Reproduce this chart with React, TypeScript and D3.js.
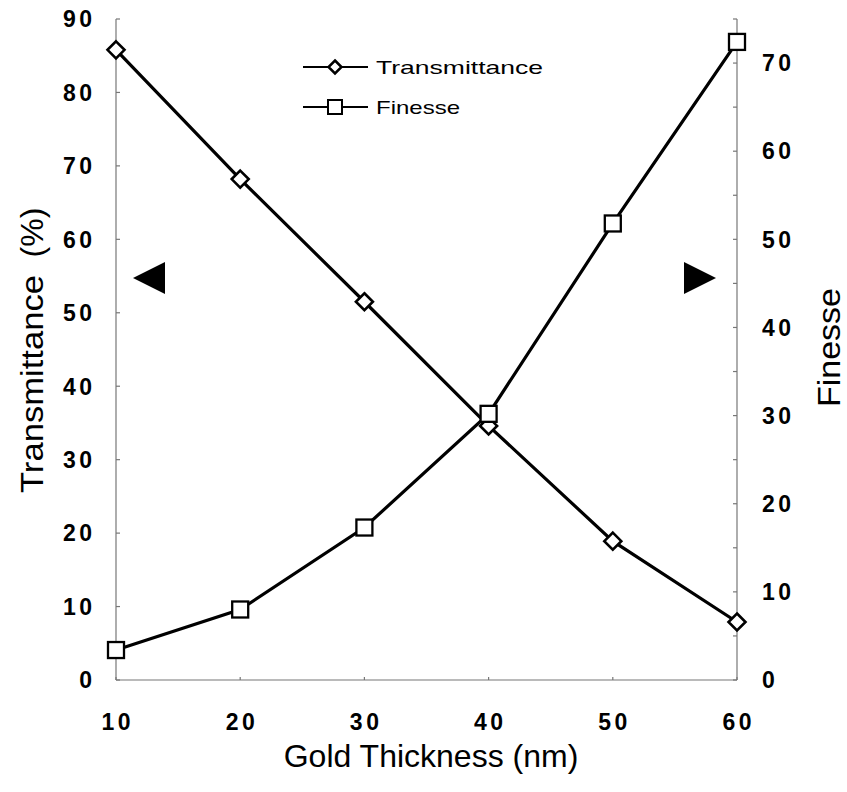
import React from "react";
import * as d3 from "d3";

const thickness = [10, 20, 30, 40, 50, 60];
const transmittance = [85.8, 68.2, 51.5, 34.6, 18.9, 7.9];
const finesse = [3.4, 8.0, 17.3, 30.2, 51.8, 72.4];
const leftTicks = [0, 10, 20, 30, 40, 50, 60, 70, 80, 90];
const rightTicks = [0, 10, 20, 30, 40, 50, 60, 70];
const rightMinor = [5, 15, 25, 35, 45, 55, 65, 75];
const xTicks = [10, 20, 30, 40, 50, 60];

export default function App() {
  const W = 847, H = 792;
  const x = d3.scaleLinear().domain([10, 60]).range([116, 737]);
  const yL = d3.scaleLinear().domain([0, 90]).range([680, 19]);
  const yR = d3.scaleLinear().domain([0, 75]).range([680, 19]);
  const lineT = d3.line<number>().x((_, i) => x(thickness[i])).y((d) => yL(d));
  const lineF = d3.line<number>().x((_, i) => x(thickness[i])).y((d) => yR(d));
  const font = "'Liberation Sans', Arial, sans-serif";
  const ls = 3.5;
  const tickStyle: React.CSSProperties = { fontFamily: font, fontSize: 23, fontWeight: 700, letterSpacing: ls };
  const diamond = (cx: number, cy: number, s = 8.5) =>
    `M${cx},${cy - s}L${cx + s},${cy}L${cx},${cy + s}L${cx - s},${cy}Z`;
  return (
    <svg width={W} height={H} style={{ position: "absolute", left: 0, top: 0, background: "#fff" }}>
      <rect width={W} height={H} fill="#fff" />
      {/* axes */}
      <g stroke="#777" strokeWidth={1.2} fill="none">
        <line x1={x(10)} x2={x(10)} y1={yL(90)} y2={yL(0)} />
        <line x1={x(60)} x2={x(60)} y1={yR(75)} y2={yR(0)} />
        <line x1={x(10)} x2={x(60)} y1={yL(0)} y2={yL(0)} />
        {leftTicks.map((t) => (
          <line key={"lt" + t} x1={x(10)} x2={x(10) + 4} y1={yL(t)} y2={yL(t)} />
        ))}
        {rightTicks.concat(rightMinor).map((t) => (
          <line key={"rt" + t} x1={x(60)} x2={x(60) - 4} y1={yR(t)} y2={yR(t)} />
        ))}
        {xTicks.map((t) => (
          <line key={"xt" + t} x1={x(t)} x2={x(t)} y1={yL(0)} y2={yL(0) - 3} />
        ))}
      </g>
      {/* tick labels */}
      {leftTicks.map((t) => (
        <text key={"ll" + t} x={92 + ls} y={yL(t)} dy="0.36em" textAnchor="end" style={tickStyle}>{t}</text>
      ))}
      {rightTicks.map((t) => (
        <text key={"rl" + t} x={762} y={yR(t)} dy="0.36em" textAnchor="start" style={tickStyle}>{t}</text>
      ))}
      {xTicks.map((t) => (
        <text key={"xl" + t} x={x(t) + ls / 2} y={730} textAnchor="middle" style={tickStyle}>{t}</text>
      ))}
      {/* axis titles */}
      <text x={431} y={767} textAnchor="middle" style={{ fontFamily: font, fontSize: 32 }}>Gold Thickness (nm)</text>
      <g transform={`translate(43,0)`}>
        <text transform={`translate(0,384) rotate(-90)`} textAnchor="middle" textLength={218} lengthAdjust="spacingAndGlyphs" style={{ fontFamily: font, fontSize: 32 }}>Transmittance</text>
        <text transform={`translate(0,232.5) rotate(-90)`} textAnchor="middle" style={{ fontFamily: font, fontSize: 32 }}>(%)</text>
      </g>
      <text transform={`translate(840,347.5) rotate(-90)`} textAnchor="middle" textLength={119} lengthAdjust="spacingAndGlyphs" style={{ fontFamily: font, fontSize: 31 }}>Finesse</text>
      {/* arrows */}
      <path d="M133,278L165,262L165,294Z" fill="#000" />
      <path d="M716,278L684,262L684,294Z" fill="#000" />
      {/* lines */}
      <path d={lineT(transmittance) || ""} fill="none" stroke="#000" strokeWidth={3.2} />
      <path d={lineF(finesse) || ""} fill="none" stroke="#000" strokeWidth={3.2} />
      {transmittance.map((v, i) => (
        <path key={"d" + i} d={diamond(x(thickness[i]), yL(v))} fill="#fff" stroke="#000" strokeWidth={2.6} />
      ))}
      {finesse.map((v, i) => (
        <rect key={"s" + i} x={x(thickness[i]) - 8} y={yR(v) - 8} width={16} height={16} fill="#fff" stroke="#000" strokeWidth={2.3} />
      ))}
      {/* legend */}
      <g>
        <line x1={303} x2={368} y1={67} y2={67} stroke="#000" strokeWidth={2} />
        <path d={diamond(335, 67, 6.5)} fill="#fff" stroke="#000" strokeWidth={2.5} />
        <text x={376} y={74} textLength={167} lengthAdjust="spacingAndGlyphs" style={{ fontFamily: font, fontSize: 19 }}>Transmittance</text>
        <line x1={303} x2={368} y1={107} y2={107} stroke="#000" strokeWidth={2} />
        <rect x={328} y={100} width={14} height={14} fill="#fff" stroke="#000" strokeWidth={2} />
        <text x={376} y={114} textLength={84} lengthAdjust="spacingAndGlyphs" style={{ fontFamily: font, fontSize: 19 }}>Finesse</text>
      </g>
    </svg>
  );
}
